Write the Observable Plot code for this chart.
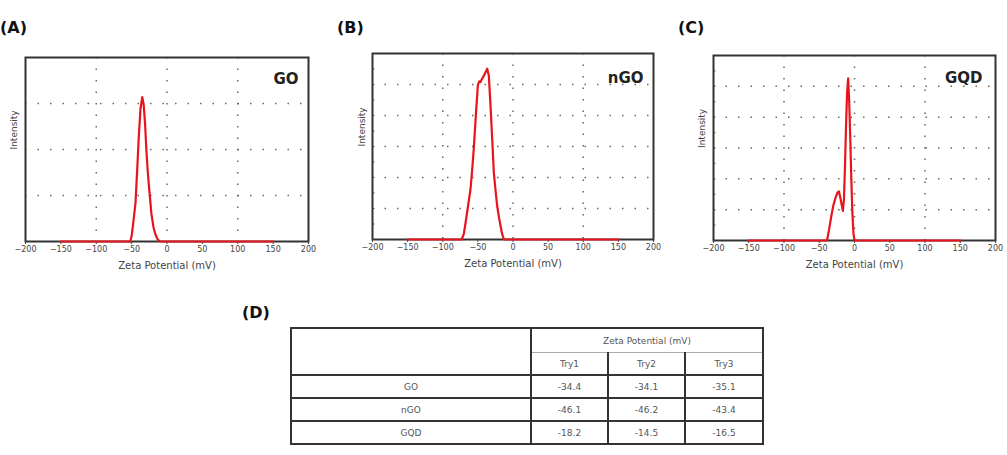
<!DOCTYPE html>
<html>
<head>
<meta charset="utf-8">
<script src="https://cdn.jsdelivr.net/npm/d3@7"></script>
<script src="https://cdn.jsdelivr.net/npm/@observablehq/plot@0.6"></script>
<style>
  html, body { margin: 0; padding: 0; background: #fff; }
  #root { position: relative; width: 1007px; height: 455px; overflow: hidden; font-family: "DejaVu Sans", Verdana, sans-serif; }
  .panel { position: absolute; top: 0; }
  .plab { position: absolute; font-weight: bold; font-size: 16px; line-height: 18px; color: #111; }
  table.zt { position: absolute; left: 290px; top: 327px; width: 472px; border-collapse: collapse; font-size: 9px; color: #555; table-layout: fixed; }
  table.zt td { text-align: center; border: 2px solid #333; height: 21px; padding: 0; }
</style>
</head>
<body>
<div id="root"></div>
<script>
// ---------- data ----------
const xTicks = [-200, -150, -100, -50, 0, 50, 100, 150, 200];
const vGrid = [-100, 0, 100];

const goX = [-150, -52, -50, -48, -46, -44.5, -42, -40, -37.5, -35, -33, -31, -29, -27, -25.5, -22, -19, -16, -13, -10, 150];
const goY = [0, 0, 0.03, 0.09, 0.16, 0.21, 0.40, 0.56, 0.72, 0.785, 0.745, 0.64, 0.485, 0.37, 0.30, 0.15, 0.075, 0.035, 0.01, 0, 0];

const ngoX = [-150, -73, -70, -67.5, -64, -60.5, -58, -55.8, -52, -50, -48, -46.3, -44, -41.5, -36.7, -34.4, -32, -29.6, -27.3, -24.5, -22.5, -20, -17.8, -15.5, -13, 150];
const ngoY = [0, 0, 0.03, 0.09, 0.18, 0.27, 0.38, 0.49, 0.72, 0.83, 0.85, 0.846, 0.864, 0.88, 0.918, 0.88, 0.72, 0.54, 0.36, 0.25, 0.18, 0.12, 0.075, 0.03, 0, 0];

const gqdX = [-150, -39, -36, -33, -30, -27, -24, -22, -20, -18, -16.5, -15, -13.5, -12, -10.5, -9, -7.5, -6, -4.5, -3, -1.5, 0, 150];
const gqdY = [0, 0, 0.06, 0.13, 0.19, 0.23, 0.26, 0.265, 0.23, 0.19, 0.16, 0.22, 0.40, 0.62, 0.80, 0.876, 0.75, 0.55, 0.33, 0.15, 0.04, 0, 0];

const panelLetters = ["(A)", "(B)", "(C)", "(D)"];
const sampleNames = ["GO", "nGO", "GQD"];
const gridQuarter = [0.25, 0.5, 0.75];
const gridSixth = [1/6, 2/6, 3/6, 4/6, 5/6];
const minorTicks = [1/12, 2/12, 3/12, 4/12, 5/12, 6/12, 7/12, 8/12, 9/12, 10/12, 11/12];

const tableHeader = "Zeta Potential (mV)";
const tryLabels = ["Try1", "Try2", "Try3"];
const try1 = [-34.4, -46.1, -18.2];
const try2 = [-34.1, -46.2, -14.5];
const try3 = [-35.1, -43.4, -16.5];

// ---------- layout ----------
const root = document.getElementById("root");
const panels = [
  {xs: goX, ys: goY, left: 0, width: 330, mL: 25, mR: 22, mT: 57, mB: 44, grid: gridQuarter, minor: false, nameDx: -10, nameDy: 16, yLabDx: -11},
  {xs: ngoX, ys: ngoY, left: 330, width: 340, mL: 42, mR: 17, mT: 53, mB: 46, grid: gridSixth, minor: true, nameDx: -10, nameDy: 19, yLabDx: -10},
  {xs: gqdX, ys: gqdY, left: 670, width: 337, mL: 43, mR: 12, mT: 55, mB: 45, grid: gridSixth, minor: true, nameDx: -13, nameDy: 17, yLabDx: -11}
];
const labelPos = [[0, 19], [337, 19], [678, 19], [242, 304]];

panels.forEach((p, i) => {
  const data = p.xs.map((x, k) => ({x, y: p.ys[k]}));
  const marks = [
    Plot.ruleY(p.grid, {stroke: "#666", strokeWidth: 1.5, strokeDasharray: "1.5,11"}),
    Plot.ruleX(vGrid, {stroke: "#666", strokeWidth: 1.5, strokeDasharray: "1.5,10"}),
  ];
  if (p.minor) marks.push(Plot.ruleY(minorTicks, {x1: -200, x2: -196.5, stroke: "#555", strokeWidth: 1}));
  marks.push(
    Plot.frame({stroke: "#333", strokeWidth: 2}),
    Plot.axisX(xTicks, {tickSize: 3, tickPadding: 2, fontSize: 8, label: null, fill: "#444", stroke: "#444"}),
    Plot.line(data, {x: "x", y: "y", stroke: "#e8141c", strokeWidth: 2.2}),
    Plot.text([sampleNames[i]], {frameAnchor: "top-right", dx: p.nameDx, dy: p.nameDy, fontSize: 15, fontWeight: "bold", fill: "#222", textAnchor: "end"}),
    Plot.text(["Zeta Potential (mV)"], {frameAnchor: "bottom", dy: 27, fontSize: 10, fill: "#444"}),
    Plot.text(["Intensity"], {frameAnchor: "left", rotate: -90, dx: p.yLabDx, fontSize: 9, fill: "#444"})
  );
  const svg = Plot.plot({
    width: p.width,
    height: 285,
    marginLeft: p.mL, marginRight: p.mR, marginTop: p.mT, marginBottom: p.mB,
    x: {domain: [-200, 200]},
    y: {domain: [0, 1], axis: null},
    style: {fontFamily: "DejaVu Sans, Verdana, sans-serif", background: "transparent", overflow: "visible"},
    marks
  });
  const wrap = document.createElement("div");
  wrap.className = "panel";
  wrap.style.left = p.left + "px";
  wrap.appendChild(svg);
  root.appendChild(wrap);
});

panelLetters.forEach((t, i) => {
  const d = document.createElement("div");
  d.className = "plab";
  d.textContent = t;
  d.style.left = labelPos[i][0] + "px";
  d.style.top = labelPos[i][1] + "px";
  root.appendChild(d);
});

// ---------- table (D) ----------
const table = document.createElement("table");
table.className = "zt";
const cg = document.createElement("colgroup");
[240, 77, 77, 78].forEach(w => { const c = document.createElement("col"); c.style.width = w + "px"; cg.appendChild(c); });
table.appendChild(cg);
const tr0 = document.createElement("tr");
const blank = document.createElement("td"); blank.rowSpan = 2; tr0.appendChild(blank);
const hz = document.createElement("td"); hz.colSpan = 3; hz.textContent = tableHeader;
hz.style.borderBottom = "1px solid #aaa"; hz.style.height = "23px";
tr0.appendChild(hz);
table.appendChild(tr0);
const tr1 = document.createElement("tr");
tryLabels.forEach(t => { const td = document.createElement("td"); td.textContent = t; td.style.borderTop = "1px solid #aaa"; tr1.appendChild(td); });
table.appendChild(tr1);
sampleNames.forEach((n, k) => {
  const tr = document.createElement("tr");
  [n, try1[k].toFixed(1), try2[k].toFixed(1), try3[k].toFixed(1)].forEach(v => {
    const td = document.createElement("td"); td.textContent = v; tr.appendChild(td);
  });
  table.appendChild(tr);
});
root.appendChild(table);
</script>
</body>
</html>
